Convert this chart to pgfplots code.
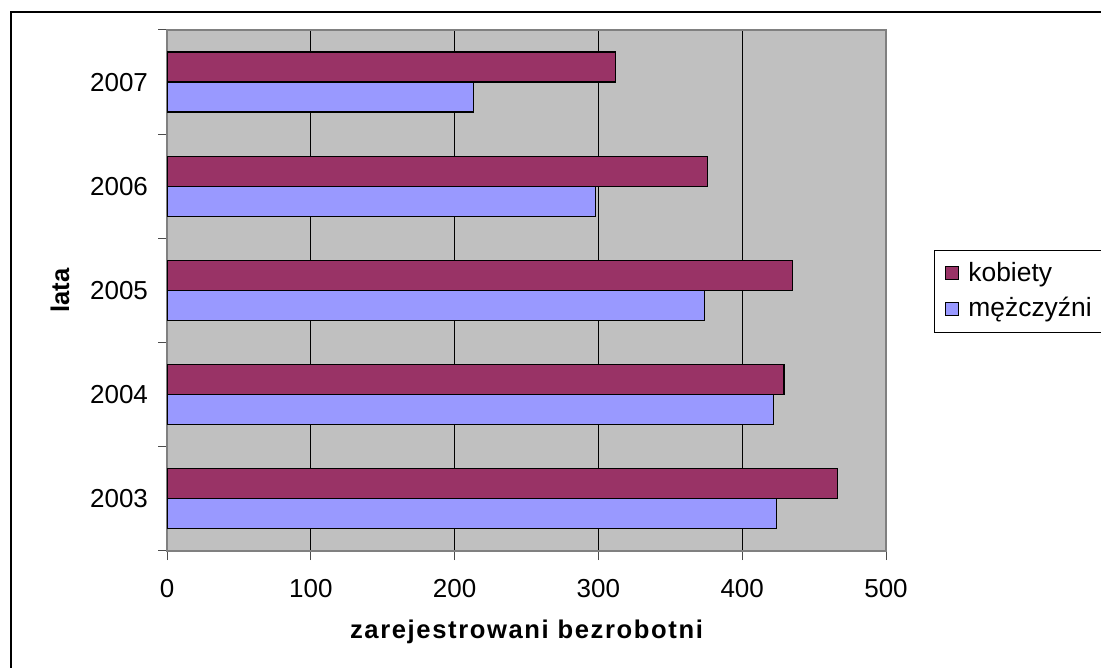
\documentclass[border=0pt]{standalone}
\usepackage{pgfplots}
\pgfplotsset{compat=1.18}
\usepackage{fontspec}
\setmainfont{Liberation Sans}
\newfontfamily\labelfont[LetterSpace=6.3]{Liberation Sans}
\definecolor{kob}{HTML}{993366}
\definecolor{men}{HTML}{9999FF}
\definecolor{bg}{HTML}{C0C0C0}
\definecolor{frm}{HTML}{808080}
\begin{document}
\begin{tikzpicture}
\useasboundingbox (0,0) rectangle (550.5pt,334pt);
\fill[white] (0,0) rectangle (550.5pt,334pt);
\draw[line width=0.7pt] (5.5pt,0) -- (5.5pt,328pt) -- (551pt,328pt);
\begin{axis}[
 at={(83.5pt,58.5pt)}, anchor=south west,
 scale only axis, width=359.5pt, height=260.5pt,
 xbar, bar width=15pt,
 xmin=0, xmax=500, ymin=-0.5, ymax=4.5,
 xtick={0,100,...,500},
 ytick={-0.5,0.5,...,4.5}, yticklabels={},
 extra y ticks={0,1,2,3,4},
 extra y tick labels={2003,2004,2005,2006,2007},
 extra y tick style={major tick length=0pt},
 tick pos=left,
 tick align=outside, major tick length=4.5pt,
 tick style={black!70, line width=0.5pt},
 xmajorgrids, major grid style={black, line width=0.5pt},
 axis background/.style={fill=bg},
 axis line style={frm, line width=1pt},
 tick label style={font=\fontsize{13}{15}\selectfont},
 /pgf/number format/assume math mode=true,
 xticklabel style={yshift=-6pt},
 yticklabel style={xshift=-6pt},
 xlabel={\labelfont\bfseries zarejestrowani bezrobotni},
 ylabel={\bfseries lata},
 label style={font=\fontsize{12.8}{15}\selectfont},
 xlabel style={at={(axis description cs:0.5,-0.1555)}, anchor=center},
 ylabel style={at={(axis description cs:-0.1488,0.5)}, anchor=center},
 legend style={at={(1.0668,0.5777)}, anchor=north west, draw=black, fill=white,
   font=\fontsize{13.2}{15}\selectfont, row sep=2.5pt, inner xsep=4pt, inner ysep=4pt},
 legend cell align=left,
 legend image code/.code={\draw[#1,draw=black,line width=0.5pt] (1.5pt,-3.25pt) rectangle (8pt,3.25pt); \path[draw=none,fill=none] (0pt,0pt) -- (11pt,0pt);},
]
\addplot[fill=kob, draw=black, line width=0.6pt, bar shift=7.5pt]
  coordinates {(466,0) (429,1) (435,2) (376,3) (312,4)};
\addplot[fill=men, draw=black, line width=0.6pt, bar shift=-7.5pt]
  coordinates {(424,0) (422,1) (374,2) (298,3) (213,4)};
\legend{kobiety, mężczyźni}
\end{axis}
\end{tikzpicture}
\end{document}
